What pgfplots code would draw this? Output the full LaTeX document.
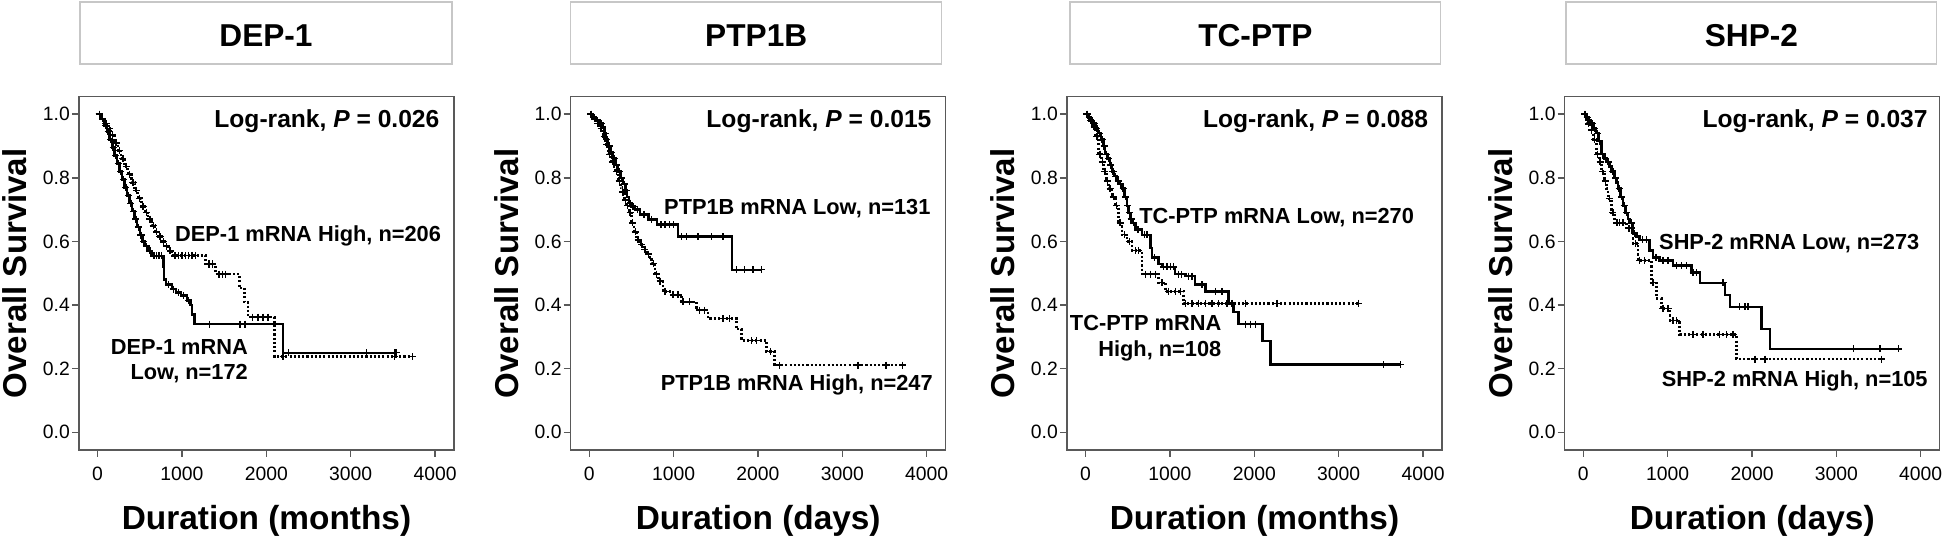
\documentclass[border=0pt]{standalone}
\usepackage{pgfplots}
\pgfplotsset{compat=1.18}
\usepackage{pgfplotstable}
\usepackage{fontspec}
\setmainfont{Liberation Sans}

\pgfplotstableread{
x y c
0 1.000 0
20 1.000 1
40 0.985 0
60 0.985 1
80 0.965 0
95 0.965 1
110 0.945 0
125 0.945 1
140 0.920 0
155 0.920 1
170 0.895 0
185 0.895 1
200 0.870 0
215 0.870 1
230 0.845 0
245 0.845 1
260 0.820 0
275 0.820 1
290 0.795 0
305 0.795 1
320 0.770 0
335 0.770 1
350 0.745 0
365 0.745 1
380 0.720 0
395 0.720 1
410 0.695 0
425 0.695 1
440 0.670 0
455 0.670 1
470 0.645 0
485 0.645 1
500 0.620 0
515 0.620 1
530 0.600 0
545 0.600 1
560 0.585 0
580 0.585 1
600 0.570 0
620 0.570 1
640 0.555 0
670 0.555 1
700 0.555 1
730 0.555 1
760 0.555 1
780 0.520 0
790 0.480 0
810 0.465 0
840 0.465 1
880 0.450 0
900 0.450 1
930 0.440 0
960 0.440 1
990 0.430 0
1020 0.430 1
1060 0.415 0
1080 0.415 1
1100 0.400 0
1120 0.370 0
1150 0.340 0
1330 0.340 1
1690 0.340 1
1750 0.340 1
2200 0.250 0
2263 0.250 1
3191 0.250 1
3527 0.250 1
3546 0.250 1
}\depLow

\pgfplotstableread{
x y c
0 1.000 0
20 1.000 1
40 0.985 0
60 0.985 1
80 0.970 0
100 0.970 1
120 0.955 0
140 0.955 1
160 0.935 0
180 0.935 1
200 0.910 0
220 0.910 1
240 0.885 0
260 0.885 1
280 0.860 0
300 0.860 1
320 0.835 0
340 0.835 1
360 0.810 0
380 0.810 1
400 0.785 0
420 0.785 1
440 0.760 0
460 0.760 1
480 0.735 0
500 0.735 1
520 0.710 0
540 0.710 1
560 0.690 0
580 0.690 1
600 0.670 0
620 0.670 1
640 0.650 0
660 0.650 1
680 0.630 0
700 0.630 1
720 0.615 0
740 0.615 1
760 0.600 0
780 0.600 1
800 0.585 0
820 0.585 1
840 0.570 0
860 0.570 1
880 0.556 0
920 0.556 1
960 0.556 1
1000 0.556 1
1040 0.556 1
1080 0.556 1
1120 0.556 1
1160 0.556 1
1280 0.529 0
1320 0.529 1
1360 0.529 1
1400 0.497 0
1440 0.497 1
1480 0.497 1
1520 0.497 1
1680 0.454 0
1740 0.410 0
1780 0.362 0
1840 0.362 1
1900 0.362 1
1960 0.362 1
2020 0.362 1
2100 0.238 0
2200 0.238 1
3520 0.238 1
3736 0.238 1
}\depHigh

\pgfplotstableread{
x y c
0 1.000 0
20 1.000 1
40 0.990 0
60 0.990 1
80 0.980 0
100 0.980 1
120 0.970 0
140 0.970 1
160 0.960 0
180 0.940 0
190 0.940 1
200 0.920 0
210 0.920 1
220 0.900 0
235 0.900 1
250 0.880 0
265 0.880 1
280 0.860 0
295 0.860 1
310 0.840 0
325 0.840 1
340 0.820 0
355 0.820 1
370 0.800 0
385 0.800 1
400 0.780 0
415 0.780 1
430 0.760 0
440 0.760 1
450 0.740 0
470 0.720 0
485 0.720 1
500 0.710 0
520 0.710 1
540 0.700 0
570 0.700 1
600 0.685 0
650 0.685 1
700 0.669 0
740 0.669 1
800 0.653 0
850 0.653 1
900 0.653 1
950 0.653 1
1000 0.653 1
1050 0.615 0
1093 0.615 1
1152 0.615 1
1290 0.615 1
1448 0.615 1
1586 0.615 1
1690 0.511 0
1744 0.511 1
1842 0.511 1
1941 0.511 1
2040 0.511 1
}\ptpLow

\pgfplotstableread{
x y c
0 1.000 0
20 1.000 1
40 0.985 0
60 0.985 1
80 0.970 0
100 0.970 1
120 0.955 0
140 0.955 1
160 0.930 0
175 0.930 1
190 0.905 0
205 0.905 1
225 0.874 0
240 0.874 1
260 0.850 0
275 0.850 1
290 0.830 0
304 0.820 0
320 0.820 1
340 0.790 0
355 0.790 1
370 0.770 0
383 0.755 0
400 0.755 1
420 0.730 0
430 0.730 1
442 0.712 0
455 0.712 1
470 0.690 0
485 0.690 1
501 0.658 0
515 0.658 1
530 0.630 0
545 0.630 1
560 0.605 0
580 0.605 1
600 0.590 0
620 0.590 1
640 0.575 0
660 0.575 1
680 0.560 0
700 0.560 1
718 0.550 0
740 0.530 0
760 0.530 1
777 0.497 0
800 0.497 1
820 0.475 0
840 0.475 1
876 0.443 0
900 0.443 1
955 0.432 0
994 0.432 1
1053 0.432 1
1093 0.410 0
1112 0.410 1
1191 0.410 1
1270 0.384 0
1310 0.384 1
1369 0.384 1
1408 0.357 0
1586 0.357 1
1665 0.357 1
1744 0.324 0
1803 0.289 0
1921 0.289 1
1980 0.289 1
2099 0.254 0
2150 0.254 1
2197 0.211 0
2257 0.211 1
3184 0.211 1
3519 0.211 1
3716 0.211 1
}\ptpHigh

\pgfplotstableread{
x y c
0 1.000 0
15 1.000 1
30 0.990 0
45 0.990 1
60 0.980 0
75 0.980 1
90 0.970 0
105 0.970 1
120 0.955 0
135 0.955 1
150 0.940 0
165 0.940 1
180 0.920 0
195 0.920 1
210 0.900 0
220 0.900 1
233 0.874 0
245 0.874 1
260 0.860 0
275 0.860 1
290 0.840 0
300 0.840 1
312 0.820 0
325 0.820 1
340 0.805 0
355 0.805 1
370 0.790 0
385 0.790 1
400 0.780 0
415 0.780 1
431 0.766 0
445 0.766 1
460 0.740 0
475 0.740 1
490 0.712 0
500 0.712 1
510 0.690 0
520 0.690 1
530 0.670 0
540 0.670 1
549 0.658 0
570 0.658 1
589 0.637 0
620 0.637 1
668 0.621 0
700 0.621 1
730 0.621 1
767 0.580 0
790 0.550 0
820 0.550 1
866 0.529 0
905 0.520 0
925 0.520 1
964 0.520 1
1004 0.520 1
1044 0.520 1
1063 0.497 0
1100 0.497 1
1140 0.497 1
1182 0.491 0
1221 0.491 1
1261 0.491 1
1300 0.464 0
1380 0.464 1
1419 0.443 0
1538 0.443 1
1617 0.443 1
1696 0.405 0
1755 0.378 0
1814 0.340 0
1893 0.340 1
1953 0.340 1
2012 0.340 1
2099 0.287 0
2190 0.213 0
3534 0.213 1
3732 0.213 1
}\tcLow

\pgfplotstableread{
x y c
0 1.000 0
20 1.000 1
40 0.980 0
60 0.980 1
80 0.960 0
100 0.960 1
120 0.930 0
135 0.930 1
154 0.874 0
170 0.874 1
190 0.850 0
200 0.850 1
213 0.820 0
230 0.820 1
250 0.790 0
260 0.790 1
273 0.766 0
290 0.766 1
310 0.740 0
330 0.740 1
352 0.712 0
370 0.712 1
391 0.658 0
410 0.658 1
431 0.621 0
460 0.621 1
490 0.600 0
520 0.600 1
549 0.572 0
589 0.572 1
629 0.572 1
668 0.497 0
708 0.497 1
767 0.497 1
826 0.497 1
866 0.470 0
905 0.470 1
945 0.443 0
984 0.443 1
1063 0.443 1
1123 0.443 1
1162 0.405 0
1182 0.405 1
1261 0.405 1
1340 0.405 1
1419 0.405 1
1498 0.405 1
1577 0.405 1
1676 0.405 1
1735 0.405 1
1893 0.405 1
2269 0.405 1
3238 0.405 1
}\tcHigh

\pgfplotstableread{
x y c
0 1.000 0
15 1.000 1
30 0.990 0
45 0.990 1
60 0.980 0
75 0.980 1
90 0.970 0
105 0.970 1
120 0.955 0
135 0.955 1
150 0.940 0
165 0.940 1
180 0.915 0
195 0.915 1
214 0.874 0
230 0.874 1
250 0.860 0
265 0.860 1
280 0.850 0
295 0.850 1
310 0.835 0
332 0.820 0
350 0.820 1
370 0.800 0
385 0.800 1
395 0.785 0
411 0.766 0
425 0.766 1
440 0.740 0
455 0.740 1
471 0.712 0
485 0.712 1
500 0.690 0
515 0.690 1
530 0.670 0
550 0.658 0
570 0.658 1
589 0.626 0
610 0.626 1
629 0.615 0
669 0.605 0
700 0.605 1
748 0.605 1
787 0.572 0
827 0.550 0
860 0.550 1
906 0.540 0
945 0.540 1
1005 0.540 1
1064 0.524 0
1104 0.524 1
1163 0.524 1
1222 0.524 1
1282 0.502 0
1302 0.502 1
1341 0.502 1
1381 0.470 0
1658 0.470 1
1677 0.432 0
1737 0.394 0
1855 0.394 1
1915 0.394 1
1954 0.394 1
2113 0.324 0
2211 0.262 0
3200 0.262 1
3517 0.262 1
3735 0.262 1
}\shpLow

\pgfplotstableread{
x y c
0 1.000 0
20 1.000 1
40 0.970 0
60 0.970 1
80 0.950 0
100 0.950 1
120 0.920 0
135 0.920 1
154 0.874 0
170 0.874 1
190 0.850 0
200 0.850 1
214 0.820 0
230 0.820 1
250 0.790 0
260 0.790 1
273 0.766 0
293 0.734 0
310 0.734 1
332 0.690 0
350 0.690 1
372 0.658 0
400 0.658 1
430 0.658 1
470 0.658 1
510 0.642 0
540 0.642 1
570 0.642 1
589 0.594 0
620 0.594 1
649 0.540 0
669 0.540 1
728 0.540 1
807 0.470 0
827 0.470 1
866 0.421 0
926 0.389 0
945 0.389 1
1005 0.389 1
1025 0.351 0
1064 0.351 1
1104 0.351 1
1143 0.308 0
1302 0.308 1
1420 0.308 1
1618 0.308 1
1697 0.308 1
1776 0.308 1
1816 0.230 0
2033 0.230 1
2152 0.230 1
3537 0.230 1
}\shpHigh

\pgfplotsset{
  kmaxis/.style={
    width=37.5mm, height=35.33mm, scale only axis,
    xmin=-220, xmax=4225, ymin=-0.0556, ymax=1.055,
    xtick={0,1000,2000,3000,4000},
    ytick={0,0.2,0.4,0.6,0.8,1},
    tick pos=left, tick align=outside, major tick length=0.7mm,
    axis line style={black!65, line width=0.4pt},
    every tick/.style={black!65, line width=0.4pt},
    /pgf/number format/assume math mode=true,
    tick label style={font=\fontsize{5.5}{6}\selectfont, text=black},
    yticklabel style={/pgf/number format/.cd, fixed, fixed zerofill, precision=1, /tikz/.cd, inner sep=0.15mm},
    xticklabel style={/pgf/number format/.cd, 1000 sep={}, /tikz/.cd, inner sep=0.25mm, yshift=-0.65mm},
    ylabel={Overall Survival},
    ylabel style={font=\fontsize{9.4}{10}\selectfont\bfseries, at={(axis description cs:-0.171,0.5)}, anchor=center},
    xlabel style={font=\fontsize{9.5}{10}\selectfont\bfseries, at={(axis description cs:0.5,-0.226)}, anchor=base},
    clip mode=individual,
  },
  solidkm/.style={const plot, black, line width=0.7pt},
  dottedkm/.style={const plot, black, line width=0.7pt, dash pattern=on 0.6pt off 0.6pt},
  cens/.style={only marks, mark=+, black, mark size=1pt, mark options={solid, line width=0.4pt},
    restrict expr to domain={\thisrow{c}}{0.5:1.5}},
}
\tikzset{
  lr/.style={anchor=base east, inner sep=0pt, font=\fontsize{7}{8}\selectfont\bfseries},
  cl/.style={anchor=base east, inner sep=0pt, font=\fontsize{6.2}{7}\selectfont\bfseries},
  tbox/.style={black!22, line width=0.35pt},
  ttext/.style={font=\fontsize{9}{10}\selectfont\bfseries},
}

\begin{document}
\begin{tikzpicture}
\useasboundingbox (0,0) rectangle (194.6mm,53.8mm);

% title boxes
\draw[tbox] (8.0mm,47.4mm) rectangle (45.2mm,53.6mm);
\node[ttext] at (26.6mm,50.2mm) {DEP-1};
\draw[tbox] (57.07mm,47.4mm) rectangle (94.17mm,53.6mm);
\node[ttext] at (75.62mm,50.2mm) {PTP1B};
\draw[tbox] (107.0mm,47.4mm) rectangle (144.07mm,53.6mm);
\node[ttext] at (125.54mm,50.2mm) {TC-PTP};
\draw[tbox] (156.6mm,47.4mm) rectangle (193.67mm,53.6mm);
\node[ttext] at (175.14mm,50.2mm) {SHP-2};

% Panel 1
\begin{axis}[kmaxis, at={(7.9mm,8.8mm)}, anchor=south west, xlabel={Duration (months)}]
\addplot[dottedkm] table[x=x,y=y]{\depHigh};
\addplot[solidkm] table[x=x,y=y]{\depLow};
\addplot[cens] table[x=x,y=y]{\depHigh};
\addplot[cens] table[x=x,y=y]{\depLow};
\node[lr] at (axis cs:4060,0.957) {Log-rank, \textit{P} = 0.026};
\node[cl] at (axis cs:4079,0.599) {DEP-1 mRNA High, n=206};
\node[cl] at (axis cs:1789,0.243) {DEP-1 mRNA};
\node[cl] at (axis cs:1789,0.165) {Low, n=172};
\end{axis}

% Panel 2
\begin{axis}[kmaxis, at={(57.07mm,8.8mm)}, anchor=south west, xlabel={Duration (days)}]
\addplot[dottedkm] table[x=x,y=y]{\ptpHigh};
\addplot[solidkm] table[x=x,y=y]{\ptpLow};
\addplot[cens] table[x=x,y=y]{\ptpHigh};
\addplot[cens] table[x=x,y=y]{\ptpLow};
\node[lr] at (axis cs:4064,0.957) {Log-rank, \textit{P} = 0.015};
\node[cl] at (axis cs:4052,0.685) {PTP1B mRNA Low, n=131};
\node[cl] at (axis cs:4079,0.130) {PTP1B mRNA High, n=247};
\end{axis}

% Panel 3
\begin{axis}[kmaxis, at={(106.7mm,8.8mm)}, anchor=south west, xlabel={Duration (months)}]
\addplot[dottedkm] table[x=x,y=y]{\tcHigh};
\addplot[solidkm] table[x=x,y=y]{\tcLow};
\addplot[cens] table[x=x,y=y]{\tcHigh};
\addplot[cens] table[x=x,y=y]{\tcLow};
\node[lr] at (axis cs:4067,0.957) {Log-rank, \textit{P} = 0.088};
\node[cl] at (axis cs:3901,0.656) {TC-PTP mRNA Low, n=270};
\node[cl] at (axis cs:1617,0.319) {TC-PTP mRNA};
\node[cl] at (axis cs:1617,0.238) {High, n=108};
\end{axis}

% Panel 4
\begin{axis}[kmaxis, at={(156.47mm,8.8mm)}, anchor=south west, xlabel={Duration (days)}]
\addplot[dottedkm] table[x=x,y=y]{\shpHigh};
\addplot[solidkm] table[x=x,y=y]{\shpLow};
\addplot[cens] table[x=x,y=y]{\shpHigh};
\addplot[cens] table[x=x,y=y]{\shpLow};
\node[lr] at (axis cs:4090,0.957) {Log-rank, \textit{P} = 0.037};
\node[cl] at (axis cs:3992,0.575) {SHP-2 mRNA Low, n=273};
\node[cl] at (axis cs:4090,0.144) {SHP-2 mRNA High, n=105};
\end{axis}
\end{tikzpicture}
\end{document}
